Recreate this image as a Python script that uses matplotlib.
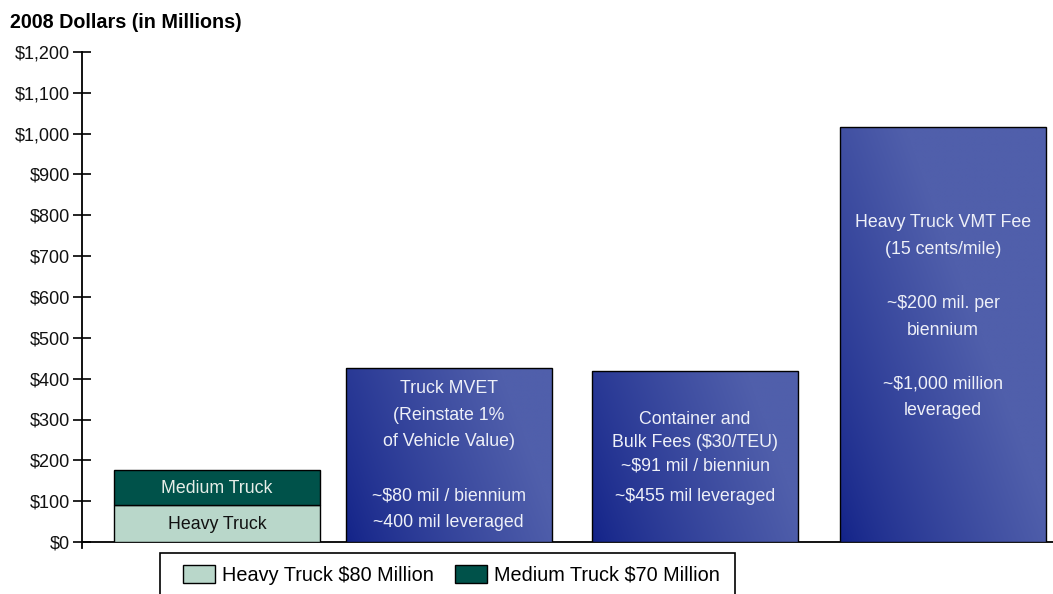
import matplotlib
matplotlib.use("Agg")
import matplotlib.pyplot as plt
import numpy as np
from matplotlib.patches import Rectangle

plt.rcParams['font.family'] = ['Liberation Sans', 'DejaVu Sans']

# ---- data ----
categories = ["Truck fees", "Truck MVET", "Container and Bulk Fees", "Heavy Truck VMT Fee"]
heavy_truck = 91
medium_truck = 85
blue_values = [426, 419, 1016]
blue_labels = [
    "Truck MVET\n(Reinstate 1%\nof Vehicle Value)\n\n~$80 mil / biennium\n~400 mil leveraged",
    "Container and\nBulk Fees ($30/TEU)\n~$91 mil / bienniun",
    "Heavy Truck VMT Fee\n(15 cents/mile)\n\n~$200 mil. per\nbiennium\n\n~$1,000 million\nleveraged",
]
extra_label = "~$455 mil leveraged"
legend_labels = ["Heavy Truck $80 Million", "Medium Truck $70 Million"]
yticks = list(range(0, 1201, 100))
ytick_labels = ["$0", "$100", "$200", "$300", "$400", "$500", "$600", "$700",
                "$800", "$900", "$1,000", "$1,100", "$1,200"]

# ---- layout ----
W, H = 1053, 594
fig = plt.figure(figsize=(W / 100, H / 100), dpi=100)
ax = fig.add_axes([82 / W, 1 - 542 / H, (W - 82) / W, (542 - 52) / H])
x_pos = [0.547, 1.484, 2.482, 3.486]
width = 0.834
heavy_c = "#b9d7ca"
medium_c = "#00524a"
txt_c = "#eef0f8"
fs_bar = 12.8

ax.bar(x_pos[0], heavy_truck, width=width, color=heavy_c, edgecolor="black", linewidth=1.0, zorder=3)
ax.bar(x_pos[0], medium_truck, bottom=heavy_truck, width=width, color=medium_c, edgecolor="black",
       linewidth=1.0, zorder=3)
ax.text(x_pos[0], 44, "Heavy Truck", ha="center", va="center", fontsize=fs_bar,
        color="#111111", zorder=5)
ax.text(x_pos[0], 130, "Medium Truck", ha="center", va="center",
        fontsize=fs_bar, color="#e6eee8", zorder=5)

# gradient fills
c_dark = np.array([0x12, 0x22, 0x88]) / 255
c_light = np.array([0x50, 0x5f, 0xab]) / 255
ny, nx = 200, 200
for i, v in enumerate(blue_values):
    x = x_pos[i + 1]
    u = np.linspace(0, 1, nx)[None, :]
    hpx = v * 490 / 1200
    vv = np.linspace(0, 1, ny)[:, None] * hpx / 206.0
    t = np.clip(0.95 * u + 0.35 * vv, 0, 1) ** 0.8
    img = c_dark[None, None, :] * (1 - t[..., None]) + c_light[None, None, :] * t[..., None]
    bars = ax.bar(x, v, width=width, facecolor="none", edgecolor="black", linewidth=1.0, zorder=4)
    patch = bars.patches[0]
    im = ax.imshow(img, extent=[x - width / 2, x + width / 2, v, 0], aspect="auto",
                   origin="upper", zorder=3, interpolation="bilinear")
    im.set_clip_path(patch)

ax.text(x_pos[1], 212, blue_labels[0], ha="center", va="center",
        fontsize=fs_bar, color=txt_c, linespacing=1.76, zorder=5)
ax.text(x_pos[2], 243, blue_labels[1], ha="center", va="center",
        fontsize=fs_bar, color=txt_c, linespacing=1.45, zorder=5)
ax.text(x_pos[2], 112, extra_label, ha="center", va="center",
        fontsize=fs_bar, color=txt_c, zorder=5)
ax.text(x_pos[3], 552, blue_labels[2], ha="center", va="center",
        fontsize=fs_bar, color=txt_c, linespacing=1.76, zorder=5)

ax.set_xlim(0, 971 / 247)
ax.set_ylim(0, 1200)
ax.set_yticks(yticks)
ax.set_yticklabels(ytick_labels, fontsize=13, color="#111111")
ax.tick_params(axis="y", direction="inout", length=13, width=1.2, pad=2)
ax.set_xticks([])
for s in ["top", "right"]:
    ax.spines[s].set_visible(False)
ax.spines["left"].set_linewidth(1.3)
ax.spines["bottom"].set_linewidth(1.3)
ax.patch.set_visible(False)
ax.plot([0, 0], [0, -15], color="black", lw=1.3, clip_on=False)

fig.text(10 / W, 1 - 22 / H, "2008 Dollars (in Millions)", fontsize=14.2, fontweight="bold",
         ha="left", va="center")

# legend frame (extends past the bottom edge)
frame = Rectangle((160 / W, -0.05), (735 - 160) / W, (1 - 553 / H) + 0.05,
                  transform=fig.transFigure, facecolor="white", edgecolor="black",
                  linewidth=1.2, zorder=1)
fig.patches.append(frame)

handles = [Rectangle((0, 0), 1, 1, facecolor=heavy_c, edgecolor="black"),
           Rectangle((0, 0), 1, 1, facecolor=medium_c, edgecolor="black")]
leg = fig.legend(handles, legend_labels, loc="upper left",
                 bbox_to_anchor=(183 / W, 1 - 565 / H), ncol=2, fontsize=14.3,
                 frameon=False, handlelength=1.6, handleheight=1.05,
                 handletextpad=0.35, columnspacing=1.1,
                 borderpad=0, borderaxespad=0)

fig.savefig("out.png", dpi=100)
